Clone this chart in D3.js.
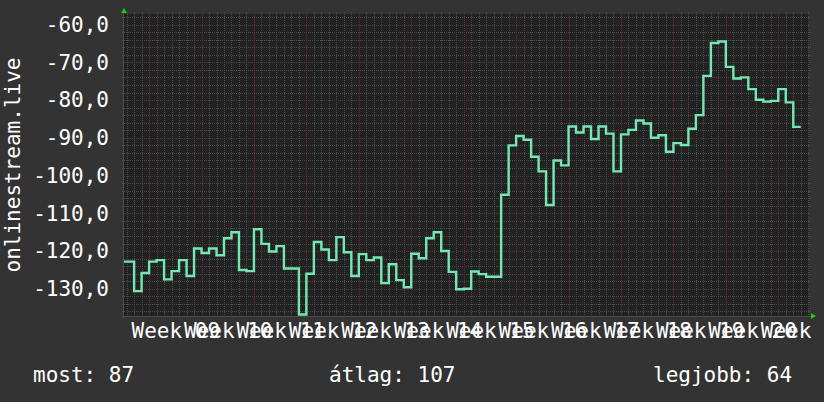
<!DOCTYPE html>
<html>
    <head>
        <meta charset="utf-8">
        <title>onlinestream.live</title>
        <style>
            body { margin: 0; background: #333333; }
            text { font-family: "DejaVu Sans Mono", monospace; fill: #ffffff; }
        </style>
    </head>
    <body>
        <svg></svg>

        <script src="https://d3js.org/d3.v7.min.js"></script>
        <script>
            // daily rank values (negated so that better rank sits higher), first value is day -4
            var firstDay = -4;
            var rankValues = [
                -122.8, -122.8, -130.6, -125.8,
                -122.8, -122.4, -127.5, -125.3, -122.4, -126.6, -119.3,
                -120.5, -119.3, -121.1, -116.6, -115.0, -125.0, -125.3,
                -114.2, -118.1, -120.1, -118.7, -124.6, -124.6, -136.8,
                -126.0, -117.6, -119.6, -122.4, -116.3, -120.3, -126.6,
                -120.8, -122.4, -121.7, -128.5, -123.5, -127.7, -129.6,
                -120.7, -121.9, -116.6, -115.0, -120.0, -125.5, -130.1,
                -130.0, -125.4, -126.1, -126.8, -126.8, -105.1, -92.0,
                -89.5, -90.5, -95.0, -98.9, -107.8, -96.0, -97.3,
                -87.0, -88.6, -87.0, -90.3, -87.0, -88.9, -98.9,
                -89.1, -87.9, -85.4, -86.2, -90.0, -89.3, -93.7,
                -91.4, -91.9, -87.6, -84.0, -73.6, -64.9, -64.5,
                -71.2, -74.3, -74.0, -77.1, -79.9, -80.4, -80.2,
                -77.1, -80.6, -87.1
            ];
            // one label per week, week starts at day 0, 7, 14 ...
            var weekLabels = ["Week 09", "Week 10", "Week 11", "Week 12", "Week 13", "Week 14", "Week 15",
                              "Week 16", "Week 17", "Week 18", "Week 19", "Week 20", "Week 21"];
            var yTicks = [-130, -120, -110, -100, -90, -80, -70, -60];
            var yTitle = "onlinestream.live";
            var legendTexts = ["most: 87", "átlag: 107", "legjobb: 64"];

            var W = 824, H = 402;
            var plot = {left: 124, right: 809, top: 14, bottom: 316};

            var svg = d3.select("svg")
                .attr("width", W)
                .attr("height", H);

            svg.append("rect").attr("width", W).attr("height", H).attr("fill", "#333333");

            // scales (days on x, value on y)
            var x = d3.scaleLinear().domain([-3.35, 88.1]).range([plot.left, plot.right]);
            var y = d3.scaleLinear().domain([-137.2, -57.2]).range([plot.bottom, plot.top]);

            // plot background
            svg.append("rect")
                .attr("x", plot.left).attr("y", plot.top)
                .attr("width", plot.right - plot.left).attr("height", plot.bottom - plot.top)
                .attr("fill", "#222222");

            var grid = svg.append("g").attr("shape-rendering", "crispEdges");

            // minor grid: every day / every 2 units
            var minorDays = d3.range(-3, 89).filter(function(d) { return d % 7 !== 0 && x(d) < plot.right; });
            var minorVals = d3.range(-136, -56, 2).filter(function(v) { return v % 10 !== 0; });
            var majorDays = weekLabels.map(function(l, i) { return i * 7; });

            function vLines(days, color) {
                grid.selectAll(null).data(days).enter().append("line")
                    .attr("x1", function(d) { return Math.round(x(d)) + 0.5; })
                    .attr("x2", function(d) { return Math.round(x(d)) + 0.5; })
                    .attr("y1", plot.top - 2).attr("y2", plot.bottom + 2)
                    .attr("stroke", color).attr("stroke-dasharray", "1,1");
            }
            function hLines(vals, color) {
                grid.selectAll(null).data(vals).enter().append("line")
                    .attr("y1", function(v) { return Math.round(y(v)) + 0.5; })
                    .attr("y2", function(v) { return Math.round(y(v)) + 0.5; })
                    .attr("x1", plot.left - 2).attr("x2", plot.right + 2)
                    .attr("stroke", color).attr("stroke-dasharray", "1,1");
            }
            vLines(minorDays, "#4b4b4b");
            hLines(minorVals, "#4b4b4b");
            vLines(majorDays, "#5c3131");
            hLines(yTicks, "#5c3131");

            // axis lines + arrows
            svg.append("line")
                .attr("x1", plot.left - 2).attr("x2", plot.right + 2)
                .attr("y1", plot.bottom + 0.5).attr("y2", plot.bottom + 0.5)
                .attr("stroke", "#4a4a4a");
            svg.append("line")
                .attr("x1", plot.left - 0.5).attr("x2", plot.left - 0.5)
                .attr("y1", plot.top - 2).attr("y2", plot.bottom + 2)
                .attr("stroke", "#4a4a4a");
            svg.append("path")
                .attr("d", "M" + (plot.left - 3) + "," + (plot.top - 1) + "L" + (plot.left + 3) + "," + (plot.top - 1) + "L" + plot.left + "," + (plot.top - 6) + "Z")
                .attr("fill", "#10d010");
            svg.append("path")
                .attr("d", "M" + (plot.right + 2) + "," + (plot.bottom - 3) + "L" + (plot.right + 2) + "," + (plot.bottom + 3) + "L" + (plot.right + 7) + "," + plot.bottom + "Z")
                .attr("fill", "#10d010");

            // the step line
            svg.append("clipPath").attr("id", "plotclip").append("rect")
                .attr("x", plot.left).attr("y", plot.top)
                .attr("width", plot.right - plot.left).attr("height", plot.bottom - plot.top);

            var points = rankValues.map(function(v, i) { return [firstDay + i, v]; });
            points.push([firstDay + rankValues.length, rankValues[rankValues.length - 1]]);

            var line = d3.line()
                .x(function(p) { return x(p[0]); })
                .y(function(p) { return y(p[1]); })
                .curve(d3.curveStepAfter);

            svg.append("path")
                .datum(points)
                .attr("clip-path", "url(#plotclip)")
                .attr("d", line)
                .attr("fill", "none")
                .attr("stroke", "#74e8b4")
                .attr("stroke-width", 2.4);

            // y axis labels, hungarian decimal comma and plain hyphen minus
            var huLocale = d3.formatLocale({decimal: ",", thousands: " ", grouping: [3], currency: ["", ""], minus: "-"});
            var yAxis = d3.axisLeft(y).tickValues(yTicks).tickSize(0).tickPadding(0).tickFormat(huLocale.format(".1f"));
            var yg = svg.append("g")
                .attr("transform", "translate(109,0)")
                .call(yAxis);
            yg.select(".domain").remove();
            yg.selectAll("text")
                .attr("fill", "#ffffff")
                .style("font-family", "'DejaVu Sans Mono', monospace")
                .style("font-size", "21px")
                .attr("dy", "0.32em");

            // x labels, centred in the middle of each week (they overlap, like the original)
            var xAxis = d3.axisBottom(x).tickValues(majorDays.map(function(d) { return d + 3.5; }))
                .tickSize(0).tickPadding(0)
                .tickFormat(function(d, i) { return weekLabels[i]; });
            var xg = svg.append("g")
                .attr("transform", "translate(0,338)")
                .call(xAxis);
            xg.select(".domain").remove();
            xg.selectAll("text")
                .attr("fill", "#ffffff")
                .attr("dy", "0")
                .attr("y", 0)
                .style("font-family", "'DejaVu Sans Mono', monospace")
                .style("font-size", "21px");

            // vertical title
            svg.append("text")
                .attr("transform", "translate(20,165) rotate(-90)")
                .attr("text-anchor", "middle")
                .style("font-size", "21px")
                .text(yTitle);

            // legend line
            var legendX = [33, 329, 653];
            svg.selectAll(".legend")
                .data(legendTexts).enter().append("text")
                .attr("class", "legend")
                .attr("x", function(t, i) { return legendX[i]; })
                .attr("y", 382)
                .style("font-size", "21px")
                .text(function(t) { return t; });
        </script>
    </body>
</html>
